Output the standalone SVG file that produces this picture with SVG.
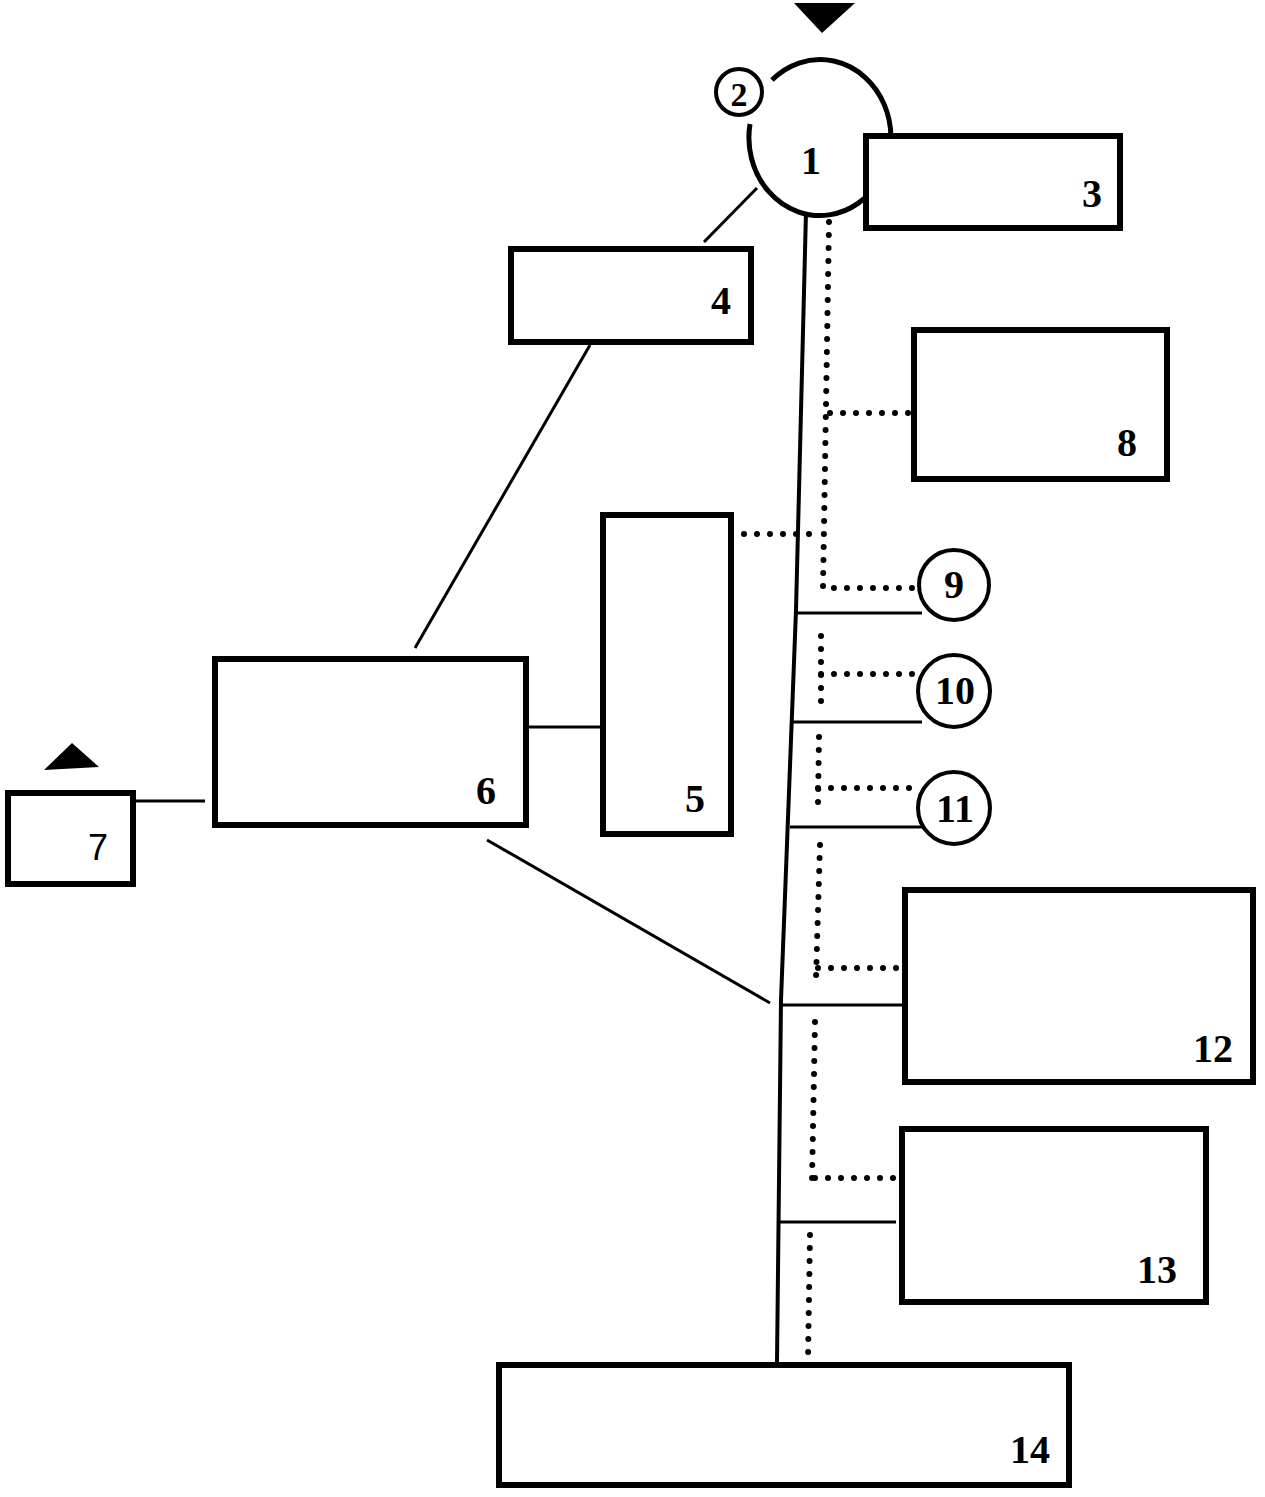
<svg xmlns="http://www.w3.org/2000/svg" width="1265" height="1497" viewBox="0 0 1265 1497">
<style>
.b{fill:#fff;stroke:#000;stroke-width:6}
.c{fill:#fff;stroke:#000;stroke-width:4}
.s{fill:none;stroke:#000;stroke-width:3}
.d{fill:none;stroke:#000;stroke-width:6;stroke-linecap:round;stroke-dasharray:0 13}
.t{font-family:"Liberation Serif",serif;font-weight:bold;font-size:40px;text-anchor:middle}
</style>
<rect width="1265" height="1497" fill="#fff"/>
<g id="connectors">
<polyline class="s" points="806,212 796,610 781,1000 777,1362" style="stroke-width:4"/>
<line class="s" x1="796" y1="613" x2="922" y2="613"/>
<line class="s" x1="793" y1="722" x2="922" y2="722"/>
<line class="s" x1="790" y1="827" x2="925" y2="827"/>
<line class="s" x1="780" y1="1005" x2="903" y2="1005"/>
<line class="s" x1="778" y1="1222" x2="896" y2="1222"/>
<line class="s" x1="757" y1="188" x2="704" y2="242"/>
<line class="s" x1="590" y1="345" x2="415" y2="648"/>
<line class="s" x1="515" y1="727" x2="601" y2="727"/>
<line class="s" x1="135" y1="801" x2="205" y2="801"/>
<line class="s" x1="487" y1="840" x2="770" y2="1003"/>
<polyline class="d" points="829,222 823,588 915,588"/>
<line class="d" x1="830" y1="413" x2="910" y2="413"/>
<line class="d" x1="744" y1="534" x2="822" y2="534"/>
<polyline class="d" points="821,636 821,704"/>
<line class="d" x1="821" y1="674" x2="915" y2="674"/>
<polyline class="d" points="819,737 818,803"/>
<line class="d" x1="818" y1="788" x2="915" y2="788"/>
<polyline class="d" points="820,845 816,978"/>
<line class="d" x1="818" y1="968" x2="898" y2="968"/>
<polyline class="d" points="815,1022 812,1180"/>
<line class="d" x1="815" y1="1178" x2="898" y2="1178"/>
<polyline class="d" points="810,1235 808,1358"/>
</g>
<g id="n1">
<path class="s" style="stroke-width:5" d="M772,80 A71,78 0 1 1 750,124"/>
<text class="t" x="811" y="174">1</text>
<polygon points="794,3 855,3 822,33" fill="#000"/>
</g>
<g id="n2">
<circle class="c" cx="739" cy="92" r="23"/>
<text class="t" x="739" y="106" style="font-size:34px">2</text>
</g>
<g id="n3">
<rect class="b" x="866" y="136" width="254" height="92"/>
<text class="t" x="1092" y="207">3</text>
</g>
<g id="n4">
<rect class="b" x="511" y="249" width="240" height="93"/>
<text class="t" x="721" y="314">4</text>
</g>
<g id="n8">
<rect class="b" x="914" y="330" width="253" height="149"/>
<text class="t" x="1127" y="456">8</text>
</g>
<g id="n5">
<rect class="b" x="603" y="515" width="128" height="319"/>
<text class="t" x="695" y="812">5</text>
</g>
<g id="n6">
<rect class="b" x="215" y="659" width="311" height="166"/>
<text class="t" x="486" y="804">6</text>
</g>
<g id="n7">
<rect class="b" x="8" y="793" width="125" height="91"/>
<text class="t" x="98" y="860" style="font-family:'Liberation Sans',sans-serif;font-weight:normal;font-size:36px">7</text>
<polygon points="44,770 72,743 99,767" fill="#000"/>
</g>
<g id="n9">
<circle class="c" cx="954" cy="585" r="35"/>
<text class="t" x="954" y="598">9</text>
</g>
<g id="n10">
<circle class="c" cx="954" cy="691" r="36"/>
<text class="t" x="955" y="704">10</text>
</g>
<g id="n11">
<circle class="c" cx="954" cy="808" r="36"/>
<text class="t" x="955" y="822">11</text>
</g>
<g id="n12">
<rect class="b" x="905" y="890" width="348" height="192"/>
<text class="t" x="1213" y="1062">12</text>
</g>
<g id="n13">
<rect class="b" x="902" y="1129" width="304" height="173"/>
<text class="t" x="1157" y="1283">13</text>
</g>
<g id="n14">
<rect class="b" x="499" y="1365" width="570" height="120"/>
<text class="t" x="1030" y="1463">14</text>
</g>
</svg>
